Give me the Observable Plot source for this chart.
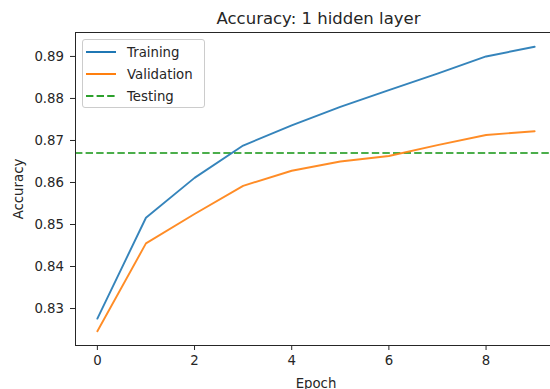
<!DOCTYPE html>
<html>
<head>
<meta charset="utf-8">
<script src="https://cdn.jsdelivr.net/npm/d3@7"></script>
<script src="https://cdn.jsdelivr.net/npm/@observablehq/plot@0.6"></script>
<style>
  body { margin: 0; background: #fff; font-family: "DejaVu Sans", sans-serif; }
  #chart { position: relative; width: 550px; height: 389px; overflow: hidden; }
  .legend { position: absolute; left: 82px; top: 39px; width: 121px; height: 67px;
            border: 1px solid #cccccc; border-radius: 3px; background: rgba(255,255,255,0.8); }
  .legend .row { position: absolute; left: 3px; height: 22px; display: flex; align-items: center;
                 font-size: 13.3px; color: #262626; white-space: nowrap; }
  .legend .row svg { margin-right: 11px; }
</style>
</head>
<body>
<div id="chart"></div>
<script>
// Accuracy per epoch for a network with one hidden layer
const epochs = [0, 1, 2, 3, 4, 5, 6, 7, 8, 9];
const training   = [0.8276, 0.8516, 0.8611, 0.8688, 0.8736, 0.8780, 0.8820, 0.8859, 0.8900, 0.8923];
const validation = [0.8246, 0.8455, 0.8525, 0.8592, 0.8628, 0.8650, 0.8663, 0.8689, 0.8713, 0.8722];
const testing = 0.8670;

const seriesNames = ["Training", "Validation", "Testing"];
const seriesColors = ["#1f77b4", "#ff7f0e", "#2ca02c"];
const xTicks = [0, 2, 4, 6, 8];
const yTicks = [0.83, 0.84, 0.85, 0.86, 0.87, 0.88, 0.89];
const xDomain = [-0.45, 9.45];
const yDomain = [0.8212, 0.8957];
const dash = "7.4,3.2";
const ink = "#262626";

const rows = [
  ...epochs.map((e, i) => ({epoch: e, acc: training[i], series: seriesNames[0]})),
  ...epochs.map((e, i) => ({epoch: e, acc: validation[i], series: seriesNames[1]}))
];

const plot = Plot.plot({
  width: 550,
  height: 389,
  marginLeft: 75,
  marginRight: -6,
  marginTop: 32,
  marginBottom: 44,
  style: {fontFamily: "DejaVu Sans, sans-serif", fontSize: "13.3px", color: ink, background: "#fff"},
  x: {domain: xDomain, ticks: xTicks, tickFormat: d => String(d), tickSize: 5, tickPadding: 5, label: null},
  y: {domain: yDomain, ticks: yTicks, tickFormat: d => d.toFixed(2), tickSize: 5, tickPadding: 6.5, label: null},
  color: {domain: seriesNames, range: seriesColors},
  marks: [
    Plot.ruleY([testing], {stroke: seriesColors[2], strokeWidth: 2, strokeOpacity: 0.85, strokeDasharray: dash}),
    Plot.line(rows, {x: "epoch", y: "acc", stroke: "series", strokeWidth: 1.9, strokeOpacity: 0.9, curve: "linear"}),
    Plot.frame({stroke: ink, strokeWidth: 1}),
    Plot.text(["Accuracy: 1 hidden layer"], {frameAnchor: "top", dx: 2.5, dy: -20, fontSize: 16.5, fill: ink}),
    Plot.text(["Epoch"], {frameAnchor: "bottom", dy: 42, fill: ink}),
    Plot.text(["Accuracy"], {frameAnchor: "left", textAnchor: "middle", dx: -57, rotate: -90, fill: ink})
  ]
});

const chart = document.getElementById("chart");
chart.appendChild(plot);

// Legend box in the upper-left corner of the axes
const legend = document.createElement("div");
legend.className = "legend";
seriesNames.forEach((name, i) => {
  const row = document.createElement("div");
  row.className = "row";
  row.style.top = (1 + i * 22) + "px";
  const dashed = name === "Testing";
  row.innerHTML =
    `<svg width="30" height="4"><line x1="0" x2="30" y1="2" y2="2" stroke="${seriesColors[i]}" stroke-width="2"` +
    (dashed ? ` stroke-dasharray="${dash}"` : "") + `/></svg><span>${name}</span>`;
  legend.appendChild(row);
});
chart.appendChild(legend);
</script>
</body>
</html>
